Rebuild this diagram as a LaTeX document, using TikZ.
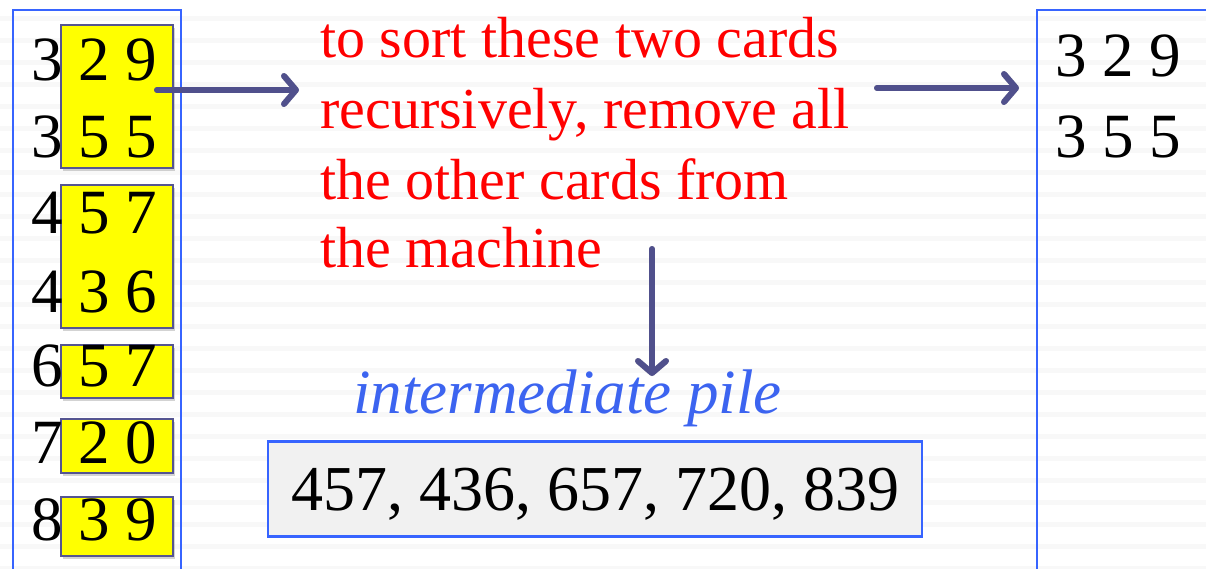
\documentclass[tikz,border=0pt]{standalone}
\usepackage{fontspec}
\setmainfont{Liberation Serif}
\usetikzlibrary{arrows.meta,shadows}
\definecolor{frameblue}{RGB}{55,100,255}
\definecolor{cardyellow}{RGB}{255,255,0}
\definecolor{cardedge}{RGB}{85,85,145}
\definecolor{arrowslate}{RGB}{80,80,140}
\definecolor{pileblue}{RGB}{60,100,240}
\definecolor{stripe}{RGB}{248,248,248}
\definecolor{pilefill}{RGB}{241,241,241}
\begin{document}
\begin{tikzpicture}[x=1pt,y=-1pt,
  digits/.style={font=\fontsize{63}{63}\selectfont, inner sep=0pt, anchor=base west},
  note/.style={font=\fontsize{58}{58}\selectfont, text=red, inner sep=0pt, anchor=base west},
  cardbox/.style={draw=cardedge, line width=2.4pt, fill=cardyellow, minimum width=112pt,
    inner sep=0pt, drop shadow={shadow xshift=1.5pt, shadow yshift=-3pt, opacity=.35}},
  frame/.style={draw=frameblue, line width=2.8pt},
  flow/.style={draw=arrowslate, line width=6pt, line cap=round, line join=round,
    -{Straight Barb[length=12pt,width=28pt,line cap=round,line join=round]}},
  flowshade/.style={flow, draw=black, opacity=.2, xshift=1.5pt, yshift=-3.5pt}
]
\useasboundingbox (0,0) rectangle (1206,568);
\clip (0,0) rectangle (1206,568);

% ruled background
\foreach \k in {0,...,25}
  \fill[stripe] (0,{15.5+22*\k}) rectangle (1206,{20.5+22*\k});

% card deck frame and yellow digit groups
\draw[frame] (13,600) -- (13,10) -- (181,10) -- (181,600);
\node[cardbox, minimum height=143pt] (y1) at (117,96.5) {};
\node[cardbox, minimum height=143pt] (y2) at (117,256.5) {};
\node[cardbox, minimum height=53pt] (y3) at (117,371.5) {};
\node[cardbox, minimum height=54pt] (y4) at (117,446) {};
\node[cardbox, minimum height=59pt] (y5) at (117,526.5) {};

\node[digits] (row1) at (31,80) {3 2 9};
\node[digits] (row2) at (31,157) {3 5 5};
\node[digits] (row3) at (31,233) {4 5 7};
\node[digits] (row4) at (31,312) {4 3 6};
\node[digits] (row5) at (31,386) {6 5 7};
\node[digits] (row6) at (31,463) {7 2 0};
\node[digits] (row7) at (31,540) {8 3 9};

% explanation
\node[note] (n1) at (320,57) {to sort these two cards};
\node[note] (n2) at (320,128) {recursively, remove all};
\node[note] (n3) at (320,199) {the other cards from};
\node[note] (n4) at (320,267) {the machine};

% output frame
\draw[frame] (1230,10) -- (1037,10) -- (1037,600);
\node[digits] (out1) at (1055,76) {3 2 9};
\node[digits] (out2) at (1055,157) {3 5 5};

% intermediate pile
\node[font=\fontsize{63}{63}\selectfont\itshape, text=pileblue, inner sep=0pt, anchor=base west]
  (pilelabel) at (353,413) {intermediate pile};
\node[draw=frameblue, line width=2.8pt, fill=pilefill, minimum width=654pt, minimum height=95pt,
  inner sep=0pt, text depth=0pt, font=\fontsize{64}{64}\selectfont] (pile) at (595,489)
  {457, 436, 657, 720, 839};

% connectors
\coordinate (a1s) at (157,90);
\coordinate (a1e) at (299,90);
\coordinate (a2s) at (877,88);
\coordinate (a2e) at (1019,88);
\coordinate (a3s) at (652,249);
\coordinate (a3e) at (652,376);
\draw[flowshade] (a1s) -- (a1e);
\draw[flowshade] (a2s) -- (a2e);
\draw[flowshade] (a3s) -- (a3e);
\draw[flow] (a1s) -- (a1e);
\draw[flow] (a2s) -- (a2e);
\draw[flow] (a3s) -- (a3e);
\end{tikzpicture}
\end{document}
